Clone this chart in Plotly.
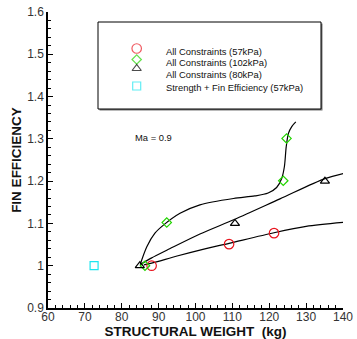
import plotly.graph_objects as go

# ---- data ----
red_x = [88.1, 109.1, 121.3]
red_y = [1.000, 1.051, 1.077]
green_x = [86.3, 92.2, 123.8, 124.7]
green_y = [1.000, 1.102, 1.201, 1.301]
black_x = [84.9, 110.7, 135.1]
black_y = [1.000, 1.100, 1.200]
cyan_x = [72.5]
cyan_y = [1.000]

red_curve_x = [86.0, 88.1, 95.0, 101.2, 109.1, 121.3, 130.0, 140.8]
red_curve_y = [1.002, 1.006, 1.023, 1.037, 1.053, 1.078, 1.093, 1.103]
green_curve_x = [85.0, 86.8, 89.0, 91.3, 95.8, 101.2, 110.3, 116.1, 119.7, 122.0,
                 123.4, 124.1, 124.6, 125.2, 126.1, 127.2]
green_curve_y = [1.003, 1.045, 1.077, 1.096, 1.124, 1.144, 1.159, 1.165, 1.172, 1.185,
                 1.207, 1.234, 1.281, 1.313, 1.329, 1.340]
black_curve_x = [85.0, 88.0, 93.0, 101.2, 110.7, 122.9, 135.1, 141.0]
black_curve_y = [1.003, 1.018, 1.040, 1.075, 1.110, 1.158, 1.206, 1.220]

legend_labels = ["All Constraints (57kPa)", "All Constraints (102kPa)",
                 "All Constraints (80kPa)", "Strength + Fin Efficiency (57kPa)"]
x_ticks = [60, 70, 80, 90, 100, 110, 120, 130, 140]
y_ticks = [0.9, 1.0, 1.1, 1.2, 1.3, 1.4, 1.5, 1.6]
y_tick_text = ["0.9", "1", "1.1", "1.2", "1.3", "1.4", "1.5", "1.6"]

RED = "#e8141e"
GREEN = "#22d400"
CYAN = "#1ee6f0"
BLACK = "#000000"
SANS = "Liberation Sans, Arial, sans-serif"

SYMBOLS = ["circle-open", "diamond-open", "triangle-up-open", "square-open"]
COLORS = [RED, GREEN, BLACK, CYAN]
SIZES = [9.5, 7.2, 8, 8]

fig = go.Figure()

# curves
for cx, cy in [(red_curve_x, red_curve_y), (green_curve_x, green_curve_y),
               (black_curve_x, black_curve_y)]:
    fig.add_trace(go.Scatter(x=cx, y=cy, mode="lines",
                             line=dict(color=BLACK, width=1.2, shape="spline", smoothing=0.8),
                             showlegend=False, hoverinfo="skip"))

# markers
for (mx, my), name, sym, col, sz in zip([(red_x, red_y), (green_x, green_y), (black_x, black_y), (cyan_x, cyan_y)],
                                        legend_labels, SYMBOLS, COLORS, SIZES):
    fig.add_trace(go.Scatter(x=mx, y=my, mode="markers", name=name,
                             marker=dict(symbol=sym, size=sz, color=col, line=dict(width=1.2, color=col))))

# manual legend (overlay axes in paper-like units)
L, T, W, H = 48, 12, 295, 296
def px(x):
    return (x - L) / W
def py(y):
    return (T + H - y) / H

leg_marker_y = [py(48.5), py(59.5), py(68.5), py(86)]
leg_text_y = [py(51.7), py(62.7), py(74), py(87.7)]
fig.add_trace(go.Scatter(x=[px(136.7)] * 4, y=leg_marker_y, mode="markers", xaxis="x2", yaxis="y2",
                         showlegend=False, hoverinfo="skip",
                         marker=dict(symbol=SYMBOLS, size=SIZES, color=COLORS,
                                     line=dict(width=1.2, color=COLORS))))

for t, yy in zip(legend_labels, leg_text_y):
    fig.add_annotation(x=px(164), y=yy, xref="paper", yref="paper", text=t, showarrow=False,
                       xanchor="left", yanchor="middle", font=dict(family=SANS, size=9.4, color="#111"))

fig.add_annotation(x=px(133), y=py(137), xref="paper", yref="paper", text="Ma = 0.9", showarrow=False,
                   xanchor="left", yanchor="middle", font=dict(family=SANS, size=9.4, color="#111"))

# legend box with shadow
fig.add_shape(type="rect", xref="paper", yref="paper", x0=px(99.5), x1=px(322.5), y0=py(110.5), y1=py(23.5),
              fillcolor="#777", line=dict(width=0), layer="below")
fig.add_shape(type="rect", xref="paper", yref="paper", x0=px(98), x1=px(321), y0=py(109), y1=py(22),
              fillcolor="white", line=dict(width=1, color=BLACK), layer="below")

fig.update_layout(
    width=357, height=339,
    margin=dict(l=L, r=357 - L - W, t=T, b=339 - T - H),
    paper_bgcolor="white", plot_bgcolor="white",
    showlegend=False,
    font=dict(family=SANS, size=12, color="#222"),
    xaxis=dict(range=[60, 140], tickvals=x_ticks, ticks="inside", ticklen=5, tickwidth=1, tickcolor=BLACK,
               showline=True, linecolor=BLACK, linewidth=1.5, showgrid=False, zeroline=False,
               minor=dict(dtick=2, ticks="inside", ticklen=3, tickcolor=BLACK, showgrid=False),
               tickfont=dict(family=SANS, size=12, color="#333"), ticklabelstandoff=-3,
               title=dict(text="<b>STRUCTURAL WEIGHT  (kg)</b>", standoff=3,
                          font=dict(family=SANS, size=13.5, color="#111")),
               automargin=False),
    yaxis=dict(range=[0.9, 1.6], tickvals=y_ticks, ticktext=y_tick_text, ticks="inside", ticklen=5,
               tickwidth=1, tickcolor=BLACK,
               showline=True, linecolor=BLACK, linewidth=1.5, showgrid=False, zeroline=False,
               minor=dict(dtick=0.02, tick0=0.9, ticks="inside", ticklen=3, tickcolor=BLACK, showgrid=False),
               tickfont=dict(family=SANS, size=12, color="#333"),
               title=dict(text="<b>FIN EFFICIENCY</b>", standoff=2,
                          font=dict(family=SANS, size=13.5, color="#111")),
               automargin=False),
    xaxis2=dict(overlaying="x", range=[0, 1], visible=False, anchor="y2"),
    yaxis2=dict(overlaying="y", range=[0, 1], visible=False, anchor="x2"),
)

fig.write_html("out.html")
